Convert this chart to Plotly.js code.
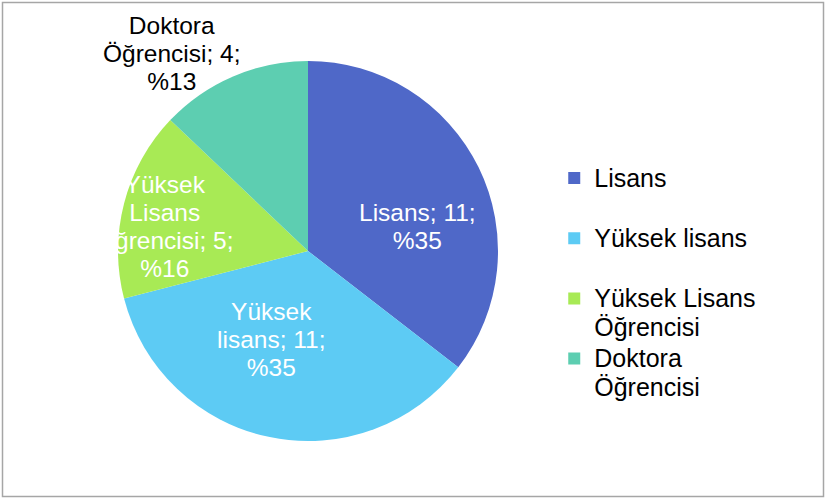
<!DOCTYPE html>
<html>
<head>
<meta charset="utf-8">
<script src="https://cdn.plot.ly/plotly-3.0.1.min.js"></script>
<style>
html,body{margin:0;padding:0;background:#fff;}
#chart{width:826px;height:499px;}
</style>
</head>
<body>
<div id="chart"></div>
<script>
// Data
var categories = ["Lisans", "Yüksek lisans", "Yüksek Lisans Öğrencisi", "Doktora Öğrencisi"];
var values = [11, 11, 5, 4];
var colors = ["#4F68C8", "#5DCBF4", "#A8EA55", "#5DCEB1"];
// wrapped forms of the category names
var legendWrap = ["Lisans<br> ", "Yüksek lisans<br> ", "Yüksek Lisans<br>Öğrencisi", "Doktora<br>Öğrencisi"];
var labelWrap = ["Lisans", "Yüksek<br>lisans", "Yüksek<br>Lisans<br>Öğrencisi", "Doktora<br>Öğrencisi"];
var labelColors = ["#ffffff", "#ffffff", "#ffffff", "#000000"];
// label anchor positions (paper fractions)
var labelX = [0.506, 0.329, 0.200, 0.208];
var labelY = [0.547, 0.319, 0.547, 0.893];

var total = values.reduce(function(a, b) { return a + b; }, 0);
var pct = values.map(function(v) { return Math.round(v / total * 100); });

var FONT = "Liberation Sans, Arial, sans-serif";

var legendLabels = legendWrap.map(function(s) {
  return '<span style="font-size:25px">' + s + '</span>';
});

var trace = {
  type: "pie",
  labels: legendLabels,
  values: values,
  marker: {colors: colors, line: {width: 0}},
  sort: false,
  direction: "clockwise",
  rotation: 0,
  textinfo: "none",
  hoverinfo: "none",
  domain: {x: [118 / 826, 498 / 826], y: [58 / 499, 438 / 499]}
};

var annotations = categories.map(function(c, i) {
  return {
    xref: "paper", yref: "paper",
    x: labelX[i], y: labelY[i],
    xanchor: "center", yanchor: "middle",
    showarrow: false,
    align: "center",
    text: '<span style="font-size:24.5px">' + labelWrap[i] + "; " + values[i] + ";<br>%" + pct[i] + '</span>',
    font: {family: FONT, size: 21.5, color: labelColors[i]}
  };
});

var layout = {
  width: 826,
  height: 499,
  margin: {l: 0, r: 0, t: 0, b: 0},
  paper_bgcolor: "#ffffff",
  showlegend: true,
  legend: {
    x: 0.671, y: 0.685, xanchor: "left", yanchor: "top",
    valign: "top",
    font: {family: FONT, size: 22, color: "#000000"},
    bgcolor: "rgba(0,0,0,0)"
  },
  annotations: annotations,
  shapes: [{
    type: "rect", xref: "paper", yref: "paper",
    x0: 2.5 / 826, x1: 823.5 / 826, y0: 2.5 / 499, y1: 496.5 / 499,
    line: {color: "#A6A6A6", width: 1.5}
  }]
};

Plotly.newPlot("chart", [trace], layout, {displayModeBar: false, staticPlot: true});
</script>
</body>
</html>
